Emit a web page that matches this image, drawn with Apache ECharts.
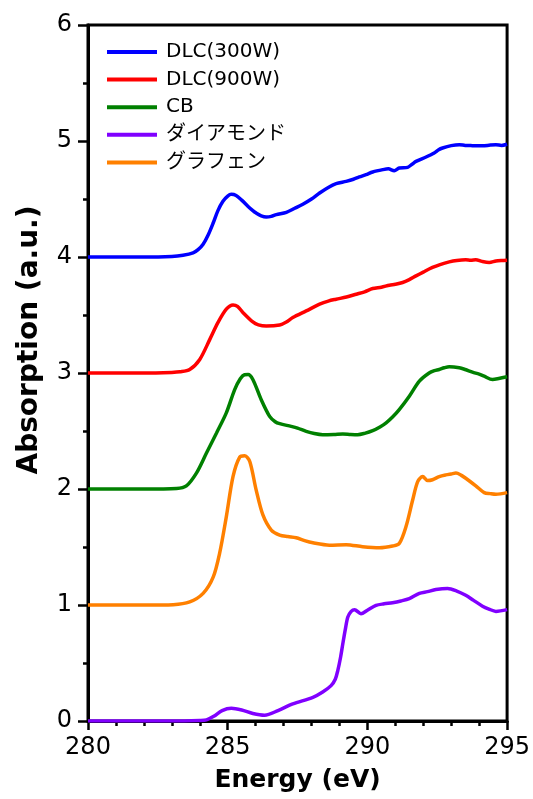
<!DOCTYPE html>
<html>
<head>
<meta charset="utf-8">
<script src="https://cdn.jsdelivr.net/npm/echarts@6/dist/echarts.min.js"></script>
<style>html,body{margin:0;padding:0;background:#fff;}#chart{width:533px;height:799px;}</style>
</head>
<body>
<div id="chart"></div>
<script>
var seriesNames = ['DLC(300W)', 'DLC(900W)', 'CB', 'ダイアモンド', 'グラフェン'];
var seriesColors = ['#0000ff', '#ff0000', '#008000', '#8000ff', '#ff8000'];
var xTitle = 'Energy (eV)';
var yTitle = 'Absorption (a.u.)';

var dlc300E = [280,281,282,283,283.4,283.76,283.94,284.12,284.3,284.48,284.65,284.83,285.0,285.13,285.3,285.5,285.73,285.9,286.02,286.2,286.38,286.56,286.74,287.1,287.4,287.69,288.0,288.29,288.6,288.88,289.24,289.5,289.71,289.95,290.19,290.55,290.75,290.96,291.14,291.44,291.6,291.74,292.1,292.39,292.55,292.69,293.0,293.29,293.5,293.76,294.12,294.4,294.6,294.8,295];
var dlc300A = [4.0,4.0,4.0,4.005,4.015,4.035,4.063,4.11,4.19,4.293,4.40,4.48,4.525,4.54,4.53,4.49,4.436,4.40,4.379,4.355,4.345,4.35,4.365,4.385,4.42,4.455,4.50,4.552,4.60,4.632,4.652,4.67,4.69,4.71,4.733,4.753,4.76,4.744,4.767,4.773,4.80,4.824,4.862,4.897,4.925,4.94,4.96,4.968,4.962,4.96,4.958,4.965,4.968,4.962,4.972];

var dlc900E = [280,282,283,283.29,283.64,284.0,284.36,284.65,284.95,285.19,285.35,285.55,285.9,286.1,286.38,286.86,287.1,287.33,287.81,288.29,288.6,288.88,289.25,289.6,289.9,290.19,290.5,290.79,291.0,291.26,291.5,291.74,292.0,292.33,292.6,292.93,293.2,293.52,293.7,293.88,294.1,294.36,294.6,294.8,295];
var dlc900A = [3.0,3.0,3.005,3.01,3.03,3.117,3.29,3.434,3.55,3.587,3.575,3.52,3.44,3.415,3.405,3.414,3.44,3.478,3.535,3.593,3.62,3.636,3.655,3.679,3.70,3.728,3.74,3.757,3.765,3.78,3.805,3.837,3.87,3.91,3.935,3.958,3.97,3.976,3.972,3.976,3.962,3.953,3.965,3.97,3.973];

var cbE = [280,282,283.17,283.52,283.88,284.24,284.6,284.95,285.25,285.45,285.6,285.73,285.9,286.2,286.5,286.7,286.86,287.27,287.5,287.81,288.1,288.4,288.8,289.12,289.4,289.65,289.9,290.19,290.45,290.67,290.9,291.14,291.5,291.86,292.21,292.4,292.57,292.75,292.93,293.29,293.5,293.76,294.0,294.18,294.48,294.7,295];
var cbA = [2.0,2.0,2.005,2.027,2.137,2.31,2.483,2.656,2.857,2.95,2.985,2.987,2.944,2.77,2.626,2.58,2.563,2.54,2.525,2.497,2.478,2.468,2.47,2.474,2.47,2.468,2.48,2.503,2.535,2.57,2.62,2.684,2.8,2.93,3.0,3.02,3.03,3.045,3.054,3.045,3.03,3.007,2.99,2.972,2.944,2.952,2.967];

var diamondE = [280,283,284.0,284.24,284.5,284.8,285.13,285.5,285.9,286.32,286.8,287.33,288.05,288.4,288.7,288.85,288.94,289.04,289.12,289.21,289.3,289.42,289.54,289.77,290.0,290.31,290.6,290.9,291.2,291.5,291.86,292.15,292.45,292.87,293.2,293.52,293.8,294.12,294.35,294.6,295];
var diamondA = [0,0,0.005,0.01,0.04,0.09,0.11,0.095,0.065,0.05,0.09,0.147,0.204,0.25,0.305,0.36,0.435,0.55,0.666,0.79,0.896,0.945,0.96,0.925,0.955,0.997,1.01,1.02,1.035,1.055,1.10,1.115,1.133,1.142,1.12,1.084,1.04,0.99,0.965,0.945,0.96];

var grapheneE = [280,282,283.05,283.64,284.12,284.48,284.71,284.95,285.19,285.43,285.61,285.79,286.02,286.26,286.56,286.86,287.15,287.45,287.75,288.05,288.64,289.24,289.83,290.43,290.9,291.14,291.38,291.62,291.8,291.98,292.15,292.33,292.57,292.81,293.0,293.17,293.35,293.52,293.88,294.18,294.4,294.6,295];
var grapheneA = [1.0,1.0,1.003,1.026,1.10,1.24,1.445,1.76,2.107,2.275,2.286,2.237,1.99,1.776,1.646,1.603,1.59,1.58,1.555,1.536,1.516,1.52,1.502,1.493,1.508,1.53,1.675,1.905,2.064,2.107,2.073,2.08,2.107,2.122,2.13,2.137,2.12,2.093,2.027,1.969,1.96,1.955,1.969];

var xTicks = [280, 285, 290, 295];
var yTicks = [0, 1, 2, 3, 4, 5, 6];

function pairs(xs, ys) { return xs.map(function (x, i) { return [x, ys[i]]; }); }
var allData = [pairs(dlc300E, dlc300A), pairs(dlc900E, dlc900A), pairs(cbE, cbA), pairs(diamondE, diamondA), pairs(grapheneE, grapheneA)];

var FONT = "'DejaVu Sans', 'Noto Sans CJK JP', sans-serif";
var chart = echarts.init(document.getElementById('chart'), null, {renderer: 'canvas'});
chart.setOption({
  animation: false,
  backgroundColor: '#fff',
  grid: {left: 88, right: 25, top: 25, bottom: 78, show: true, borderColor: '#000', borderWidth: 3, backgroundColor: 'transparent'},
  legend: {
    left: 107, top: 42, padding: 0, orient: 'vertical', icon: 'rect', itemWidth: 50, itemHeight: 4, itemGap: 7.6,
    textStyle: {fontFamily: FONT, fontSize: 20, color: '#000', lineHeight: 20, padding: [0, 0, 0, 4]},
    data: seriesNames
  },
  xAxis: {
    type: 'value', min: xTicks[0], max: xTicks[xTicks.length - 1], interval: 5,
    name: xTitle, nameLocation: 'middle', nameGap: 47,
    nameTextStyle: {fontFamily: FONT, fontSize: 25, fontWeight: 'bold', color: '#000'},
    axisLine: {show: true, lineStyle: {color: '#000', width: 3}},
    axisTick: {show: true, length: 9, lineStyle: {color: '#000', width: 2.5}},
    minorTick: {show: true, splitNumber: 5, length: 5, lineStyle: {color: '#000', width: 2.5}},
    axisLabel: {fontFamily: FONT, fontSize: 24, color: '#000', margin: 15},
    splitLine: {show: false}
  },
  yAxis: {
    type: 'value', min: yTicks[0], max: yTicks[yTicks.length - 1], interval: 1,
    axisLine: {show: true, lineStyle: {color: '#000', width: 3}},
    axisTick: {show: true, length: 10, lineStyle: {color: '#000', width: 2.5}},
    minorTick: {show: true, splitNumber: 2, length: 5, lineStyle: {color: '#000', width: 2.5}},
    axisLabel: {fontFamily: FONT, fontSize: 24, color: '#000', margin: 16},
    splitLine: {show: false}
  },
  graphic: [{
    type: 'text', x: 30, y: 340, rotation: Math.PI / 2,
    style: {text: yTitle, font: "bold 28px 'DejaVu Sans', sans-serif", fill: '#000', align: 'center', verticalAlign: 'middle'}
  }],
  series: seriesNames.map(function (n, i) {
    return {
      name: n, type: 'line', data: allData[i], showSymbol: false, symbol: 'none', smooth: 0.3,
      color: seriesColors[i], lineStyle: {width: 3.5, color: seriesColors[i]}, z: 3
    };
  })
});
</script>
</body>
</html>
